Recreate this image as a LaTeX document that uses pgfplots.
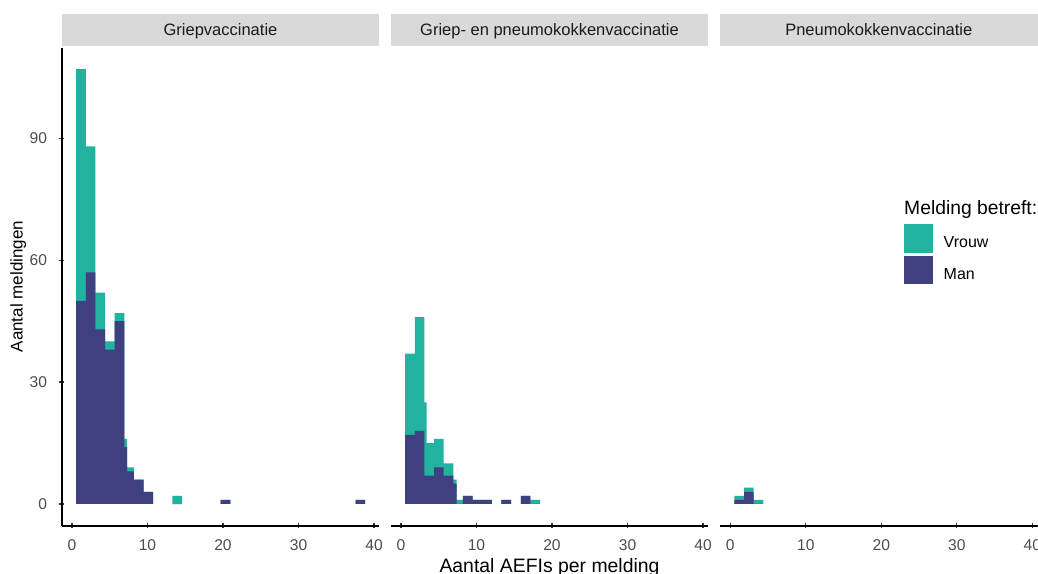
\documentclass[border=0pt]{standalone}
\usepackage{pgfplots}
\pgfplotsset{compat=1.18}
\usepackage{pgfplotstable}
\usepackage{fontspec}
\setmainfont{Liberation Sans}
\definecolor{vrouwc}{HTML}{21B2A0}
\definecolor{manc}{HTML}{3E4080}
\definecolor{stripc}{HTML}{D9D9D9}
\definecolor{tickc}{HTML}{4D4D4D}
\definecolor{tickl}{HTML}{333333}
\definecolor{stript}{HTML}{1A1A1A}

% left edge of each bin, count Man, count Vrouw
\pgfplotstableread{
x man vrouw
0.55 50 57
1.826 57 31
3.102 43 9
4.378 38 2
5.654 45 2
6.93 14 2
7.3 8 1
8.206 6 0
9.482 3 0
10.758 0 0
13.31 0 2
14.586 0 0
19.69 1 0
20.966 0 0
37.554 1 0
38.83 1 0
}\griep

\pgfplotstableread{
x man vrouw
0.55 17 20
1.826 18 28
3.102 7 18
3.4 7 8
4.378 9 7
5.654 7 3
6.93 5 1
7.38 0 1
8.206 2 0
9.482 1 0
10.758 1 0
12.034 0 0
13.31 1 0
14.586 0 0
15.862 2 0
17.138 0 1
18.414 0 0
}\beide

\pgfplotstableread{
x man vrouw
0.55 1 1
1.826 3 1
3.102 0 1
4.378 0 0
}\pneumo

\pgfplotsset{
  panel/.style={
    scale only axis, width=317.6bp, height=478.2bp,
    xmin=-1.36, xmax=40.7, ymin=-5.35, ymax=112.35,
    xtick={0,10,20,30,40},
    tick align=outside, major tick length=5bp,
    tick style={tickl, line width=1.3bp},
    /pgf/number format/assume math mode=true,
    ticklabel style={font=\fontsize{15.6bp}{18bp}\selectfont, text=tickc},
    xticklabel style={anchor=north, inner sep=0pt, yshift=-11bp},
    every axis title shift=0pt,
    title style={at={(0.5,1)}, anchor=south, yshift=1.8bp, fill=stripc,
      minimum width=317.6bp, minimum height=31.4bp, inner sep=0pt,
      text=stript, font=\fontsize{16.5bp}{19bp}\selectfont,
      text height=11.8bp, text depth=0pt},
    anchor=south west,
    clip=false,
  },
  noarrows/.style={axis line style={-, black, line width=1.9bp},
    x axis line style={-}, y axis line style={-}},
  bars/.style={const plot, draw=none, forget plot},
}
% one group of adjacent bins: table, x domain
\newcommand{\bargroup}[2]{%
  \addplot[bars, fill=vrouwc, restrict x to domain=#2]
    table[x=x, y expr=\thisrow{man}+\thisrow{vrouw}] {#1} \closedcycle;
  \addplot[bars, fill=manc, restrict x to domain=#2]
    table[x=x, y=man] {#1} \closedcycle;}

\begin{document}
\begin{tikzpicture}
\useasboundingbox (0,0) rectangle (1038bp,-574bp);

\begin{axis}[panel, at={(61.7bp,-525.7bp)},
  axis x line=bottom, axis y line=left, noarrows,
  ytick={0,30,60,90},
  yticklabel style={anchor=east, inner sep=0pt, xshift=-12bp},
  title={Griepvaccinatie},
  ylabel={Aantal meldingen},
  ylabel style={at={(axis description cs:-0.1367,0.5)}, anchor=center,
    inner sep=0pt, font=\fontsize{17bp}{20bp}\selectfont}]
\bargroup{\griep}{0:11}
\bargroup{\griep}{13:15}
\bargroup{\griep}{19:21}
\bargroup{\griep}{37:39}
\end{axis}

\begin{axis}[panel, at={(390.7bp,-525.7bp)},
  axis x line=bottom, axis y line=none, noarrows, ytick=\empty,
  title={Griep- en pneumokokkenvaccinatie},
  xlabel={Aantal AEFIs per melding},
  xlabel style={at={(axis description cs:0.5,0)}, anchor=north,
    yshift=-32.6bp, inner sep=0pt, font=\fontsize{19.4bp}{22bp}\selectfont}]
\bargroup{\beide}{0:12.1}
\bargroup{\beide}{13:14.6}
\bargroup{\beide}{15.8:18.5}
\end{axis}

\begin{axis}[panel, at={(720bp,-525.7bp)},
  axis x line=bottom, axis y line=none, noarrows, ytick=\empty,
  title={Pneumokokkenvaccinatie},
  legend image code/.code={\fill[#1] (0bp,-10bp) rectangle (29bp,18.4bp);},
  legend cell align=left,
  legend style={at={(0.5793,0.6303)}, anchor=north west, draw=none, fill=none,
    inner sep=0pt, outer sep=0pt, row sep=3.3bp,
    font=\fontsize{16bp}{19bp}\selectfont,
    nodes={inner sep=0pt, text depth=0.15em},
    /tikz/every odd column/.append style={column sep=10.7bp}}]
\bargroup{\pneumo}{0:5}
\addlegendimage{fill=vrouwc, draw=none}
\addlegendentry{Vrouw}
\addlegendimage{fill=manc, draw=none}
\addlegendentry{Man}
\node[anchor=base west, inner sep=0pt, font=\fontsize{19.3bp}{22bp}\selectfont]
  at (axis description cs:0.5793,0.6508) {Melding betreft:};
\end{axis}
\end{tikzpicture}
\end{document}
